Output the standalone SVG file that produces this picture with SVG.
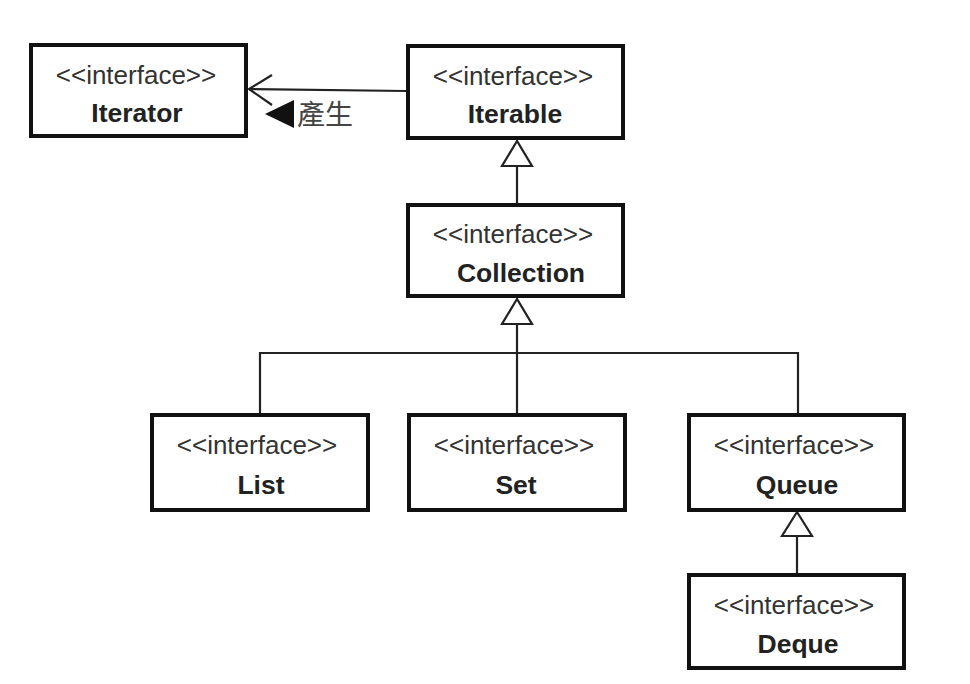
<svg xmlns="http://www.w3.org/2000/svg" width="970" height="684" viewBox="0 0 970 684">
<style>
.box{fill:#fff;stroke:#111;stroke-width:4}
.st{font-family:"Liberation Sans",Arial,sans-serif;font-size:26px;fill:#333;text-anchor:middle}
.nm{font-family:"Liberation Sans",Arial,sans-serif;font-size:26.5px;font-weight:bold;fill:#222;text-anchor:middle}
.ln{fill:none;stroke:#222;stroke-width:2.2}
.tri{fill:#fff;stroke:#222;stroke-width:2.2;stroke-linejoin:miter}
</style>
<rect width="970" height="684" fill="#fff"/>
<g id="connectors">
<line class="ln" x1="406" y1="91" x2="249" y2="89"/>
<polyline class="ln" points="272,75 249,89 272,105"/>
<line class="ln" x1="517" y1="166" x2="517" y2="203"/>
<polygon class="tri" points="517,141 502,166 532,166"/>
<line class="ln" x1="517" y1="324" x2="517" y2="413"/>
<polyline class="ln" points="260,413 260,353 798,353 798,413"/>
<polygon class="tri" points="517,299 502,324 532,324"/>
<line class="ln" x1="797" y1="536" x2="797" y2="573"/>
<polygon class="tri" points="797,512 782,536 812,536"/>
<polygon points="265,114 294,100 294,128" fill="#111"/>
<text x="297" y="125" font-family="'Noto Sans CJK TC','Noto Sans CJK SC',sans-serif" font-size="28" fill="#444">產生</text>
</g>
<g id="Iterator">
<rect class="box" x="31" y="45" width="215" height="91"/>
<text class="st" x="136" y="84">&lt;&lt;interface&gt;&gt;</text>
<text class="nm" x="137" y="122">Iterator</text>
</g>
<g id="Iterable">
<rect class="box" x="408" y="46" width="215" height="92"/>
<text class="st" x="513" y="85">&lt;&lt;interface&gt;&gt;</text>
<text class="nm" x="515" y="123">Iterable</text>
</g>
<g id="Collection">
<rect class="box" x="408" y="205" width="215" height="91"/>
<text class="st" x="513" y="243">&lt;&lt;interface&gt;&gt;</text>
<text class="nm" x="521" y="282">Collection</text>
</g>
<g id="List">
<rect class="box" x="152" y="415" width="216" height="95"/>
<text class="st" x="257" y="454">&lt;&lt;interface&gt;&gt;</text>
<text class="nm" x="261" y="494">List</text>
</g>
<g id="Set">
<rect class="box" x="409" y="415" width="216" height="95"/>
<text class="st" x="514" y="454">&lt;&lt;interface&gt;&gt;</text>
<text class="nm" x="516" y="494">Set</text>
</g>
<g id="Queue">
<rect class="box" x="689" y="415" width="215" height="95"/>
<text class="st" x="794" y="454">&lt;&lt;interface&gt;&gt;</text>
<text class="nm" x="797" y="494">Queue</text>
</g>
<g id="Deque">
<rect class="box" x="689" y="575" width="215" height="93"/>
<text class="st" x="794" y="614">&lt;&lt;interface&gt;&gt;</text>
<text class="nm" x="798" y="653">Deque</text>
</g>
</svg>
